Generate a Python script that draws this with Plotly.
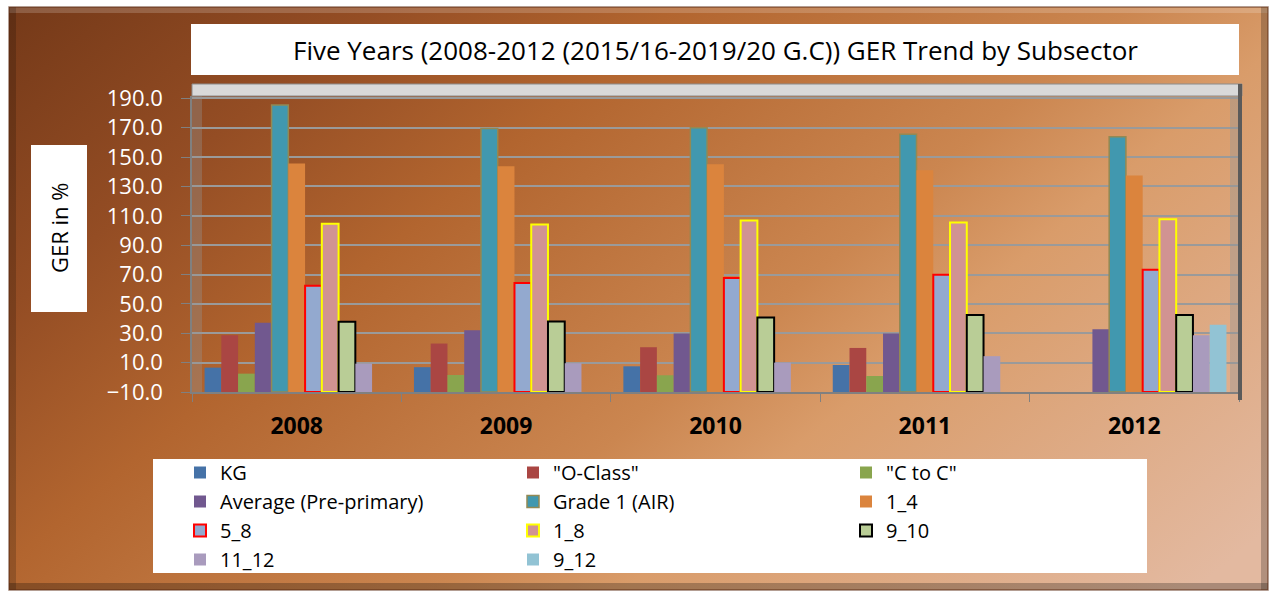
import base64
import plotly.graph_objects as go

years = ["2008", "2009", "2010", "2011", "2012"]

kg = [6.6, 6.9, 7.5, 8.4, None]
o_class = [28.7, 23.0, 20.5, 20.0, None]
c_to_c = [2.5, 1.6, 1.4, 0.9, None]
average_pre = [37.1, 32.1, 29.8, 29.8, 32.8]
grade1_air = [185.4, 169.5, 169.9, 165.6, 163.8]
g1_4 = [145.6, 143.7, 145.1, 141.0, 137.4]
g5_8 = [62.4, 64.3, 67.7, 69.9, 73.3]
g1_8 = [104.6, 104.1, 106.8, 105.5, 107.7]
g9_10 = [37.8, 38.0, 40.8, 42.4, 42.4]
g11_12 = [9.3, 9.6, 10.0, 14.4, 28.7]
g9_12 = [None, None, None, None, 35.8]

y_ticks = [-10, 10, 30, 50, 70, 90, 110, 130, 150, 170, 190]
floor = -10

W, H = 1273, 591
L, R, T, B = 192, 1239, 96, 392


def px(x):
    return (x - L) / (R - L)


def py(y):
    return (B - y) / (B - T)


series = [
    ("KG", kg, "#4572A7", None, 0),
    ('"O-Class"', o_class, "#AA4643", None, 0),
    ('"C to C"', c_to_c, "#89A54E", None, 0),
    ("Average (Pre-primary)", average_pre, "#71588F", None, 0),
    ("Grade 1 (AIR)", grade1_air, "#4198AF", "#938953", 1.5),
    ("1_4", g1_4, "#DB843D", None, 0),
    ("5_8", g5_8, "#93A9CF", "#FF0000", 2),
    ("1_8", g1_8, "#D19392", "#FFFF00", 2),
    ("9_10", g9_10, "#B9CD96", "#000000", 2),
    ("11_12", g11_12, "#A99BBD", None, 0),
    ("9_12", g9_12, "#92C3D4", None, 0),
]

fig = go.Figure()
for name, vals, color, edge, lw in series:
    fig.add_trace(go.Bar(
        x=years,
        y=[None if v is None else v - floor for v in vals],
        base=floor,
        name=name,
        marker=dict(color=color, line=dict(color=edge or color, width=lw)),
        customdata=vals,
        hovertemplate="%{x}: %{customdata}<extra>" + name + "</extra>",
    ))

# brown gradient background with a bevelled edge
svg = f"""<svg xmlns='http://www.w3.org/2000/svg' width='{W}' height='{H}' viewBox='0 0 {W} {H}' preserveAspectRatio='none'>
<defs><linearGradient id='g' gradientUnits='userSpaceOnUse' x1='0' y1='0' x2='780' y2='936'>
<stop offset='0' stop-color='#733818'/>
<stop offset='0.2' stop-color='#944d24'/>
<stop offset='0.36' stop-color='#b2652f'/>
<stop offset='0.6' stop-color='#cb8650'/>
<stop offset='0.7' stop-color='#d99c6a'/>
<stop offset='1' stop-color='#e3b9a0'/>
</linearGradient></defs>
<rect width='{W}' height='{H}' fill='#ffffff'/>
<rect x='9' y='7' width='1259' height='583' fill='url(#g)'/>
<rect x='9' y='7' width='1259' height='6' fill='#ffffff' fill-opacity='0.18'/>
<rect x='9' y='7' width='7' height='583' fill='#000000' fill-opacity='0.18'/>
<rect x='1261' y='7' width='7' height='583' fill='#000000' fill-opacity='0.22'/>
<rect x='9' y='583' width='1259' height='7' fill='#000000' fill-opacity='0.25'/>
<rect x='9' y='7' width='1259' height='583' fill='none' stroke='#5a2a10' stroke-opacity='0.6' stroke-width='1.5'/>
</svg>"""
bg_src = "data:image/svg+xml;base64," + base64.b64encode(svg.encode()).decode()

shapes = [
    # title box, y-title box, legend box
    dict(type="rect", xref="paper", yref="paper", x0=px(191), x1=px(1239), y0=py(24), y1=py(75),
         fillcolor="white", line=dict(width=0), layer="below"),
    dict(type="rect", xref="paper", yref="paper", x0=px(31), x1=px(87), y0=py(145), y1=py(312),
         fillcolor="white", line=dict(width=0), layer="below"),
    dict(type="rect", xref="paper", yref="paper", x0=px(153), x1=px(1147), y0=py(459), y1=py(573),
         fillcolor="white", line=dict(width=0), layer="below"),
    # 3D frame of the plot area
    dict(type="rect", xref="paper", yref="paper", x0=px(192), x1=px(1242), y0=py(84), y1=py(96),
         fillcolor="#d9d9d9", line=dict(color="#8c8c8c", width=1), layer="above"),
    dict(type="rect", xref="paper", yref="paper", x0=px(192), x1=px(202), y0=py(392), y1=py(96),
         fillcolor="rgba(150,150,150,0.35)", line=dict(width=0), layer="above"),
    dict(type="rect", xref="paper", yref="paper", x0=px(1230), x1=px(1238), y0=py(392), y1=py(96),
         fillcolor="rgba(150,150,150,0.4)", line=dict(width=0), layer="above"),
    dict(type="rect", xref="paper", yref="paper", x0=px(1238), x1=px(1242), y0=py(400), y1=py(84),
         fillcolor="#5a5a5a", line=dict(width=0), layer="above"),
]

annotations = [
    dict(text="Five Years (2008-2012 (2015/16-2019/20 G.C)) GER Trend by Subsector",
         xref="paper", yref="paper", x=px(715), y=py(50), xanchor="center", yanchor="middle",
         showarrow=False, font=dict(size=26, color="black")),
    dict(text="GER in %", xref="paper", yref="paper", x=px(59), y=py(228), textangle=-90,
         xanchor="center", yanchor="middle", showarrow=False, font=dict(size=22, color="black")),
]

fig.update_layout(
    width=W, height=H,
    margin=dict(l=L, r=W - R, t=T, b=H - B, autoexpand=False),
    paper_bgcolor="white", plot_bgcolor="white",
    font=dict(family="Open Sans", color="black"),
    barmode="group", bargap=0.12, bargroupgap=0,
    images=[dict(source=bg_src, xref="paper", yref="paper", x=px(0), y=py(0),
                 sizex=W / (R - L), sizey=H / (B - T), xanchor="left", yanchor="top",
                 sizing="stretch", layer="below")],
    shapes=shapes,
    annotations=annotations,
    showlegend=True,
    legend=dict(orientation="h", x=px(180), y=py(453), xanchor="left", yanchor="top",
                entrywidth=288, entrywidthmode="pixels", traceorder="normal",
                font=dict(size=20, color="black"), bgcolor="rgba(0,0,0,0)"),
    xaxis=dict(type="category", showline=True, linecolor="#808080", linewidth=2,
               ticks="outside", tickson="boundaries", ticklen=8, tickcolor="#808080",
               tickfont=dict(size=23, color="black", family="Open Sans", weight="bold"),
               ticklabelstandoff=12, showgrid=False, fixedrange=True),
    yaxis=dict(range=[-10, 191.6], tickvals=y_ticks, tickformat=".1f",
               showline=True, linecolor="#808080", linewidth=1.5,
               ticks="outside", ticklen=9, tickcolor="#808080",
               tickfont=dict(size=22, color="white"), ticklabelstandoff=14,
               showgrid=True, gridcolor="#9a9a9a", gridwidth=2, zeroline=False, fixedrange=True),
)

fig.write_html("out.html", config={"displayModeBar": False},
               post_script="document.body.style.margin='0';")
